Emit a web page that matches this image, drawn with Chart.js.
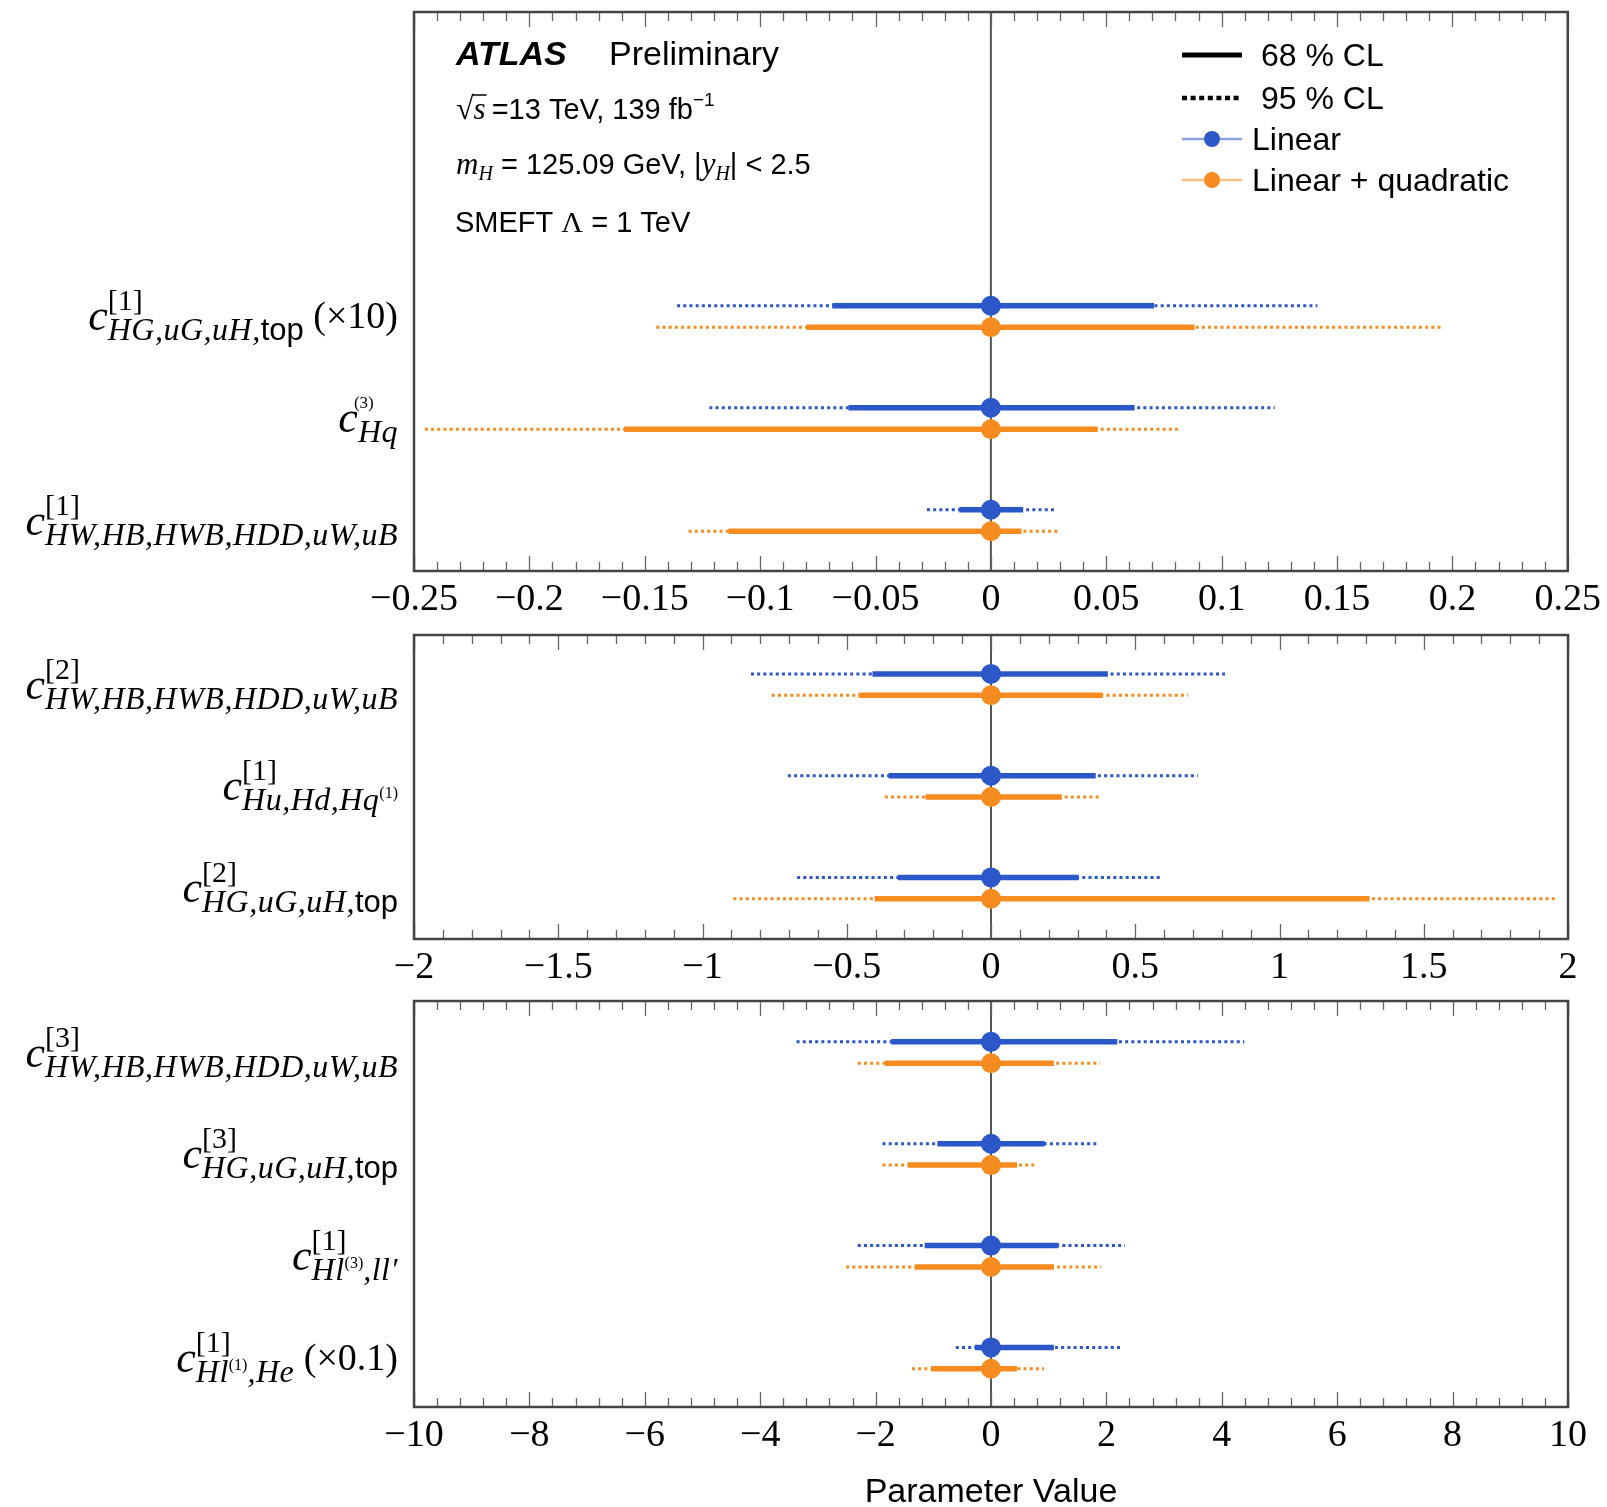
<!DOCTYPE html>
<html>
<head>
<meta charset="utf-8">
<script src="https://cdn.jsdelivr.net/npm/chart.js@4.4.1/dist/chart.umd.min.js"></script>
<style>
  html, body { margin: 0; padding: 0; background: #fff; }
  #page { position: relative; width: 1607px; height: 1507px; overflow: hidden; background: #fff; }
  .panel { position: absolute; left: 0; width: 1607px; }
</style>
</head>
<body>
<div id="page">
  <div class="panel" style="top:0px;height:640px"><canvas id="ca"></canvas></div>
  <div class="panel" style="top:620px;height:390px"><canvas id="cb"></canvas></div>
  <div class="panel" style="top:990px;height:517px"><canvas id="cc"></canvas></div>
</div>
<script>
// ---------- Wilson coefficient labels (c, superscript, subscript runs, optional tail) ----------
const topLabels = [
  { sup: '[1]', sub: [['i', 'HG,uG,uH,'], ['s', 'top']], tail: ' (×10)' },
  { sup: '(3)', small: true, sub: [['i', 'Hq']] },
  { sup: '[1]', sub: [['i', 'HW,HB,HWB,HDD,uW,uB']] }
];
const midLabels = [
  { sup: '[2]', sub: [['i', 'HW,HB,HWB,HDD,uW,uB']] },
  { sup: '[1]', sub: [['i', 'Hu,Hd,Hq'], ['t', '(1)']] },
  { sup: '[2]', sub: [['i', 'HG,uG,uH,'], ['s', 'top']] }
];
const botLabels = [
  { sup: '[3]', sub: [['i', 'HW,HB,HWB,HDD,uW,uB']] },
  { sup: '[3]', sub: [['i', 'HG,uG,uH,'], ['s', 'top']] },
  { sup: '[1]', sub: [['i', 'Hl'], ['t', '(3)'], ['i', ',ll′']] },
  { sup: '[1]', sub: [['i', 'Hl'], ['t', '(1)'], ['i', ',He']], tail: ' (×0.1)' }
];

// ---------- intervals [low, high] and best-fit values ----------
const topLinear68 = [[-0.0687, 0.0707], [-0.0617, 0.0623], [-0.0137, 0.0140]];
const topLinear95 = [[-0.1360, 0.1415], [-0.1220, 0.1230], [-0.0277, 0.0280]];
const topQuad68   = [[-0.0800, 0.0883], [-0.1590, 0.0463], [-0.1137, 0.0133]];
const topQuad95   = [[-0.1450, 0.1953], [-0.2453, 0.0813], [-0.1310, 0.0290]];
const topLinearBest = [0, 0, 0];
const topQuadBest   = [0, 0, 0];

const midLinear68 = [[-0.411, 0.405], [-0.355, 0.363], [-0.323, 0.304]];
const midLinear95 = [[-0.832, 0.811], [-0.704, 0.717], [-0.672, 0.592]];
const midQuad68   = [[-0.459, 0.387], [-0.227, 0.245], [-0.403, 1.312]];
const midQuad95   = [[-0.760, 0.683], [-0.368, 0.381], [-0.893, 1.960]];
const midLinearBest = [0, 0, 0];
const midQuadBest   = [0, 0, 0];

const botLinear68 = [[-1.73, 2.19], [-0.93, 0.93], [-1.15, 1.17], [-0.28, 1.09]];
const botLinear95 = [[-3.37, 4.39], [-1.88, 1.85], [-2.31, 2.32], [-0.61, 2.24]];
const botQuad68   = [[-1.84, 1.09], [-1.44, 0.45], [-1.32, 1.09], [-1.04, 0.45]];
const botQuad95   = [[-2.31, 1.89], [-1.88, 0.75], [-2.51, 1.91], [-1.37, 0.92]];
const botLinearBest = [0, 0, 0, 0];
const botQuadBest   = [0, 0, 0, 0];

// ---------- axis ranges and tick steps ----------
const topRange = [-0.25, 0.25], topMajor = 0.05, topMinor = 0.01;
const midRange = [-2, 2],       midMajor = 0.5,  midMinor = 0.1;
const botRange = [-10, 10],     botMajor = 2,    botMinor = 0.4;

const BLUE = '#2c57c9';
const ORANGE = '#f68b1f';
const SERIF = '"Liberation Serif", "Times New Roman", serif';
const SANS = '"Liberation Sans", Arial, Helvetica, sans-serif';
const ROW_OFF = 0.105;

// text runs {t, f, dy, ls}: measure and draw left to right
function runsWidth(ctx, runs) {
  let w = 0;
  for (const r of runs) {
    ctx.font = r.f;
    ctx.letterSpacing = (r.ls || 0) + 'px';
    w += ctx.measureText(r.t).width;
  }
  ctx.letterSpacing = '0px';
  return w;
}
function drawRuns(ctx, x, y, runs) {
  ctx.textAlign = 'left';
  ctx.textBaseline = 'alphabetic';
  for (const r of runs) {
    ctx.font = r.f;
    ctx.letterSpacing = (r.ls || 0) + 'px';
    ctx.fillText(r.t, x, y + (r.dy || 0));
    x += ctx.measureText(r.t).width;
  }
  ctx.letterSpacing = '0px';
  return x;
}

function subRuns(parts) {
  return parts.map(([k, t]) => {
    if (k === 'i') return { t, f: 'italic 32px ' + SERIF, ls: 0.5 };
    if (k === 's') return { t, f: '31px ' + SANS };
    return { t, f: '16px ' + SERIF, dy: -12 };
  });
}

function drawLabel(ctx, spec, xRight, cy) {
  ctx.fillStyle = '#000';
  const cRun = [{ t: 'c', f: 'italic 44px ' + SERIF }];
  const supRun = spec.small
    ? [{ t: spec.sup, f: '17px ' + SERIF }]
    : [{ t: spec.sup, f: '30px ' + SERIF }];
  const sRuns = subRuns(spec.sub);
  const tailRun = spec.tail ? [{ t: spec.tail, f: '38px ' + SERIF }] : [];
  const cW = runsWidth(ctx, cRun);
  const supW = runsWidth(ctx, supRun);
  const subW = runsWidth(ctx, sRuns);
  const tailW = runsWidth(ctx, tailRun);
  const total = cW + Math.max(supW, subW) + tailW;
  const x = xRight - total;
  drawRuns(ctx, x, cy + 14, cRun);
  drawRuns(ctx, x + cW - (spec.small ? 4 : 0), cy - (spec.small ? 10 : 6), supRun);
  drawRuns(ctx, x + cW, cy + 24, sRuns);
  if (spec.tail) drawRuns(ctx, x + cW + Math.max(supW, subW), cy + 12, tailRun);
}

function fmtTick(v) {
  const r = parseFloat(v.toFixed(4));
  if (Math.abs(r) < 1e-9) return '0';
  return r < 0 ? '−' + String(Math.abs(r)) : String(r);
}

// interval segments, separated by gaps
function segData(ranges, off) {
  const pts = [];
  ranges.forEach((r, i) => {
    pts.push({ x: r[0], y: i + off }, { x: r[1], y: i + off }, { x: r[1], y: null });
  });
  return pts;
}
function pointData(best, off) {
  return best.map((v, i) => ({ x: v, y: i + off }));
}

function buildDatasets(lin68, lin95, quad68, quad95, linBest, quadBest) {
  const dotted = (data, color) => ({
    type: 'line', data, borderColor: color, borderWidth: 3, borderDash: [3, 3.2],
    borderCapStyle: 'butt', pointRadius: 0, spanGaps: false, fill: false, order: 3
  });
  const solid = (data, color) => ({
    type: 'line', data, borderColor: color, borderWidth: 5.5,
    borderCapStyle: 'butt', pointRadius: 0, spanGaps: false, fill: false, order: 2
  });
  const pts = (data, color, label) => ({
    type: 'scatter', label, data, backgroundColor: color, borderColor: color,
    pointRadius: 10, pointBorderWidth: 0, showLine: false, order: 1
  });
  return [
    dotted(segData(lin95, -ROW_OFF), BLUE),
    dotted(segData(quad95, ROW_OFF), ORANGE),
    solid(segData(lin68, -ROW_OFF), BLUE),
    solid(segData(quad68, ROW_OFF), ORANGE),
    pts(pointData(linBest, -ROW_OFF), BLUE, 'Linear'),
    pts(pointData(quadBest, ROW_OFF), ORANGE, 'Linear + quadratic')
  ];
}

// frame, zero line, inner tick marks and row labels
const panelDecor = {
  id: 'panelDecor',
  beforeDatasetsDraw(chart) {
    const { ctx, chartArea: a, scales } = chart;
    const x0 = scales.x.getPixelForValue(0);
    ctx.save();
    ctx.strokeStyle = '#555';
    ctx.lineWidth = 2;
    ctx.beginPath();
    ctx.moveTo(x0, a.top);
    ctx.lineTo(x0, a.bottom);
    ctx.stroke();
    ctx.restore();
  },
  afterDatasetsDraw(chart, args, opts) {
    const { ctx, chartArea: a, scales } = chart;
    const xs = scales.x;
    ctx.save();
    ctx.strokeStyle = '#666';
    ctx.lineWidth = 1.3;
    const n = Math.round((opts.max - opts.min) / opts.minor);
    for (let k = 0; k <= n; k++) {
      const v = opts.min + k * opts.minor;
      const q = v / opts.major;
      const major = Math.abs(q - Math.round(q)) < 1e-6;
      const len = major ? 15 : 9;
      const px = Math.round(xs.getPixelForValue(v)) + 0.5;
      ctx.beginPath();
      ctx.moveTo(px, a.bottom);
      ctx.lineTo(px, a.bottom - len);
      ctx.moveTo(px, a.top);
      ctx.lineTo(px, a.top + len);
      ctx.stroke();
    }
    ctx.strokeStyle = '#444';
    ctx.lineWidth = 2.5;
    ctx.strokeRect(a.left, a.top, a.right - a.left, a.bottom - a.top);
    const ys = scales.y;
    opts.labels.forEach((spec, i) => {
      drawLabel(ctx, spec, 398, ys.getPixelForValue(i));
    });
    ctx.restore();
  }
};

// experiment header and legend of the upper panel
const headerLegend = {
  id: 'headerLegend',
  afterDraw(chart) {
    const ctx = chart.ctx;
    ctx.save();
    ctx.fillStyle = '#000';
    drawRuns(ctx, 456, 65, [{ t: 'ATLAS', f: 'italic bold 34px ' + SANS }]);
    drawRuns(ctx, 609, 65, [{ t: 'Preliminary', f: '34px ' + SANS }]);

    let x = drawRuns(ctx, 456, 119, [{ t: '√', f: '32px ' + SERIF }]);
    const sx = x;
    x = drawRuns(ctx, x, 119, [{ t: 's', f: 'italic 31px ' + SERIF }]);
    ctx.strokeStyle = '#000';
    ctx.lineWidth = 1.5;
    ctx.beginPath();
    ctx.moveTo(sx - 1, 95);
    ctx.lineTo(x + 1, 95);
    ctx.stroke();
    x = drawRuns(ctx, x + 6, 119, [{ t: '=13 TeV, 139 fb', f: '29px ' + SANS }]);
    drawRuns(ctx, x, 106, [{ t: '−1', f: '19px ' + SANS }]);

    drawRuns(ctx, 456, 174, [
      { t: 'm', f: 'italic 31px ' + SERIF },
      { t: 'H', f: 'italic 20px ' + SERIF, dy: 6 },
      { t: ' = 125.09 GeV, |', f: '29px ' + SANS },
      { t: 'y', f: 'italic 31px ' + SERIF },
      { t: 'H', f: 'italic 20px ' + SERIF, dy: 6 },
      { t: '| < 2.5', f: '29px ' + SANS }
    ]);
    drawRuns(ctx, 455, 232, [
      { t: 'SMEFT ', f: '29px ' + SANS },
      { t: 'Λ', f: '30px ' + SERIF },
      { t: ' = 1 TeV', f: '29px ' + SANS }
    ]);

    // legend
    const lx0 = 1182, lx1 = 1242;
    ctx.strokeStyle = '#000';
    ctx.lineWidth = 5;
    ctx.beginPath(); ctx.moveTo(lx0, 55); ctx.lineTo(lx1, 55); ctx.stroke();
    ctx.lineWidth = 4.5;
    ctx.setLineDash([5, 3.6]);
    ctx.beginPath(); ctx.moveTo(lx0, 98); ctx.lineTo(lx1, 98); ctx.stroke();
    ctx.setLineDash([]);
    [[139, BLUE, 'Linear'], [180, ORANGE, 'Linear + quadratic']].forEach(([y, c, t]) => {
      ctx.strokeStyle = c;
      ctx.globalAlpha = 0.55;
      ctx.lineWidth = 2.5;
      ctx.beginPath(); ctx.moveTo(lx0, y); ctx.lineTo(lx1, y); ctx.stroke();
      ctx.globalAlpha = 1;
      ctx.fillStyle = c;
      ctx.beginPath(); ctx.arc(1212, y, 8, 0, Math.PI * 2); ctx.fill();
      ctx.fillStyle = '#000';
      drawRuns(ctx, 1252, y + 11, [{ t, f: '32px ' + SANS }]);
    });
    ctx.fillStyle = '#000';
    drawRuns(ctx, 1261, 66, [{ t: '68 % CL', f: '32px ' + SANS }]);
    drawRuns(ctx, 1261, 109, [{ t: '95 % CL', f: '32px ' + SANS }]);
    ctx.restore();
  }
};

function makePanel(canvasId, cfg) {
  const xScale = {
    type: 'linear',
    min: cfg.range[0],
    max: cfg.range[1],
    afterFit(s) { s.height = cfg.axisH; },
    grid: { display: false, drawTicks: false },
    border: { display: false },
    ticks: {
      stepSize: cfg.major,
      autoSkip: false,
      maxRotation: 0,
      padding: 6,
      color: '#000',
      font: { family: SERIF, size: 38 },
      callback: (v) => fmtTick(v)
    }
  };
  if (cfg.title) {
    xScale.title = {
      display: true, text: cfg.title, color: '#000',
      font: { family: SANS, size: 34, lineHeight: 0.85 },
      padding: { top: 0, bottom: 0 }
    };
  }
  return new Chart(document.getElementById(canvasId), {
    type: 'scatter',
    data: { datasets: buildDatasets(...cfg.series) },
    options: {
      responsive: true,
      maintainAspectRatio: false,
      animation: false,
      events: [],
      layout: { padding: { top: cfg.padTop, left: 414, right: 39, bottom: 0 } },
      scales: {
        x: xScale,
        y: { type: 'linear', display: false, reverse: true, min: cfg.yRange[0], max: cfg.yRange[1] }
      },
      plugins: {
        legend: { display: false },
        tooltip: { enabled: false },
        panelDecor: {
          labels: cfg.labels, min: cfg.range[0], max: cfg.range[1],
          major: cfg.major, minor: cfg.minor
        }
      }
    },
    plugins: cfg.extra ? [panelDecor, cfg.extra] : [panelDecor]
  });
}

makePanel('ca', {
  range: topRange, major: topMajor, minor: topMinor,
  yRange: [-2.985, 2.495], padTop: 12, axisH: 69,
  labels: topLabels,
  series: [topLinear68, topLinear95, topQuad68, topQuad95, topLinearBest, topQuadBest],
  extra: headerLegend
});
makePanel('cb', {
  range: midRange, major: midMajor, minor: midMinor,
  yRange: [-0.487, 2.5], padTop: 15, axisH: 71,
  labels: midLabels,
  series: [midLinear68, midLinear95, midQuad68, midQuad95, midLinearBest, midQuadBest]
});
makePanel('cc', {
  range: botRange, major: botMajor, minor: botMinor,
  yRange: [-0.506, 3.48], padTop: 11, axisH: 100,
  labels: botLabels, title: 'Parameter Value',
  series: [botLinear68, botLinear95, botQuad68, botQuad95, botLinearBest, botQuadBest]
});
</script>
</body>
</html>
